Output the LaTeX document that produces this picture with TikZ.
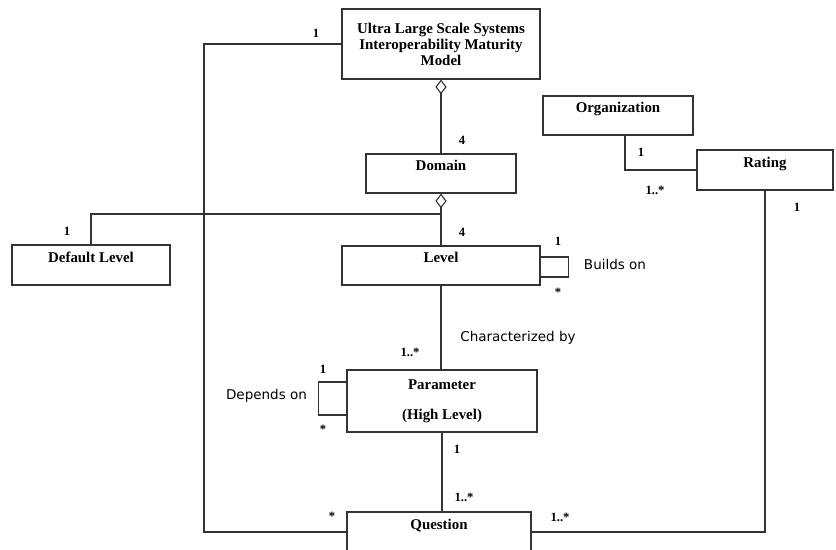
\documentclass[tikz,border=0pt]{standalone}
\usepackage{fontspec}
\setmainfont{Liberation Serif}
\newfontfamily\labelfont{DejaVu Sans}
\usetikzlibrary{arrows.meta,positioning,calc}

\begin{document}
\begin{tikzpicture}[
        x=0.025cm, y=-0.025cm,
        cls/.style={rectangle, draw=black!80, line width=0.8pt, align=center, font=\fontsize{10.6}{11.4}\selectfont\bfseries},
        headtext/.style={text height=7pt, text depth=11pt},
        mult/.style={font=\fontsize{9}{10}\selectfont\bfseries, inner sep=1pt},
        role/.style={font=\labelfont\fontsize{9.6}{11}\selectfont, inner sep=1pt},
        link/.style={draw=black!80, line width=0.8pt},
        agg/.style={link, {Diamond[open, length=10.5pt, width=8pt]}-}
    ]
        \useasboundingbox (0,0) rectangle (836,550);
        \clip (0,0) rectangle (836,550);

        % Classes
        \node[cls, minimum width=4.95cm, minimum height=1.75cm] (ulsim) at (441,44) {Ultra Large Scale Systems\\Interoperability Maturity\\Model};
        \node[cls, headtext, minimum width=3.75cm, minimum height=0.975cm] (domain) at (441,173.5) {Domain};
        \node[cls, headtext, minimum width=3.75cm, minimum height=0.975cm] (org) at (618,115.5) {Organization};
        \node[cls, headtext, minimum width=3.4cm, minimum height=1cm] (rating) at (765,170) {Rating};
        \node[cls, headtext, minimum width=3.95cm, minimum height=1cm] (deflevel) at (91,265) {Default Level};
        \node[cls, headtext, minimum width=4.95cm, minimum height=0.975cm] (level) at (441,265.5) {Level};
        \node[cls, minimum width=4.75cm, minimum height=1.55cm] (param) at (442,401) {Parameter\\[10pt](High Level)};
        \node[cls, headtext, minimum width=4.6cm, minimum height=1cm] (question) at (439,532) {Question};

        % Helper points
        \coordinate (split) at (441,214);
        \coordinate (rail) at (204,0);

        % Associations
        \draw[agg] (ulsim.south) -- (ulsim.south |- domain.north);
        \draw[agg] (domain.south) -- (split) -| (deflevel.north);
        \draw[link] (split) -- (split |- level.north);
        \draw[link] (level.south) -- (level.south |- param.north);
        \draw[link] (param.south) -- (param.south |- question.north);
        \draw[link] (ulsim.west) -| (rail |- question.west) -- (question.west);
        \draw[link] (rating.south) |- (question.east);
        \draw[link] ($(org.south)+(7,0)$) |- (rating.west);
        \draw[link] ($(level.east)+(0,-8.5)$) -- ++(28,0) -- ++(0,20) -- ++(-28,0);
        \draw[link] ($(param.west)+(0,-19)$) -- ++(-28,0) -- ++(0,33) -- ++(28,0);

        % Multiplicities
        \node[mult] (mulsim) at (316,33) {1};
        \node[mult] (mdomtop) at (462,140) {4};
        \node[mult] (mlevtop) at (462,232) {4};
        \node[mult] (mdef) at (67,231) {1};
        \node[mult] (morg) at (641,152) {1};
        \node[mult] (mrateorg) at (655,190) {1..*};
        \node[mult] (mrate) at (797,207) {1};
        \node[mult] (mbuildone) at (558,241) {1};
        \node[mult] (mbuildmany) at (558,292) {*};
        \node[mult] (mchar) at (410,352) {1..*};
        \node[mult] (mdepone) at (323,369) {1};
        \node[mult] (mdepmany) at (323,429) {*};
        \node[mult] (mparam) at (457,449) {1};
        \node[mult] (mquest) at (464,497) {1..*};
        \node[mult] (mqleft) at (332,516) {*};
        \node[mult] (mqright) at (560,517) {1..*};

        % Role names
        \node[role] (buildson) at (615,264) {Builds on};
        \node[role] (charby) at (518,338) {Characterized by};
        \node[role] (dependson) at (266.5,396) {Depends on};
    \end{tikzpicture}
\end{document}
